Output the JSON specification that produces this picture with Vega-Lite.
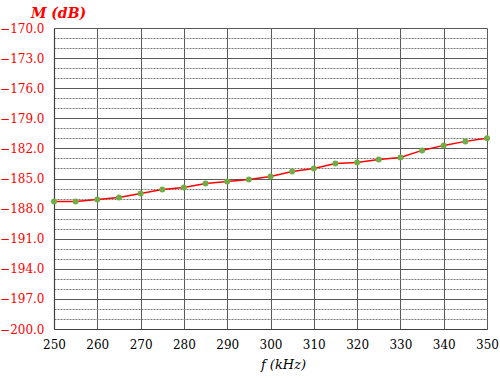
{
  "$schema": "https://vega.github.io/schema/vega-lite/v6.json",
  "width": 433,
  "height": 301,
  "autosize": {"type": "none"},
  "padding": {"left": 54, "top": 28, "right": 13, "bottom": 49},
  "background": "white",
  "config": {"view": {"stroke": null}, "font": "DejaVu Serif"},
  "data": {"values": [
    {"f": 250, "M": -187.3}, {"f": 255, "M": -187.3}, {"f": 260, "M": -187.1},
    {"f": 265, "M": -186.9}, {"f": 270, "M": -186.5}, {"f": 275, "M": -186.1},
    {"f": 280, "M": -185.9}, {"f": 285, "M": -185.5}, {"f": 290, "M": -185.3},
    {"f": 295, "M": -185.1}, {"f": 300, "M": -184.8}, {"f": 305, "M": -184.3},
    {"f": 310, "M": -184.0}, {"f": 315, "M": -183.5}, {"f": 320, "M": -183.4},
    {"f": 325, "M": -183.1}, {"f": 330, "M": -182.9}, {"f": 335, "M": -182.2},
    {"f": 340, "M": -181.7}, {"f": 345, "M": -181.3}, {"f": 350, "M": -181.0}
  ]},
  "encoding": {
    "x": {"field": "f", "type": "quantitative",
      "scale": {"domain": [250, 350], "nice": false, "zero": false},
      "axis": {"values": [250, 260, 270, 280, 290, 300, 310, 320, 330, 340, 350],
        "title": "f (kHz)", "titleFont": "DejaVu Serif", "titleFontStyle": "italic",
        "titleFontWeight": "normal", "titleFontSize": 13, "titleColor": "black",
        "titleX": 229, "titleY": 39, "titleAlign": "center", "titleBaseline": "alphabetic",
        "labelFont": "DejaVu Serif", "labelFontSize": 12, "labelColor": "black",
        "labelPadding": 10, "ticks": false, "labelFlush": false,
        "grid": true, "gridColor": "#5a5a5a", "gridWidth": 1,
        "domainColor": "#404040", "domainWidth": 1.2}},
    "y": {"field": "M", "type": "quantitative",
      "scale": {"domain": [-200, -170], "nice": false, "zero": false},
      "axis": {"values": [-200,-199,-198,-197,-196,-195,-194,-193,-192,-191,-190,-189,-188,-187,-186,-185,-184,-183,-182,-181,-180,-179,-178,-177,-176,-175,-174,-173,-172,-171,-170],
        "labelExpr": "(datum.value + 200) % 3 === 0 ? format(datum.value, '.1f') : ''",
        "title": "M (dB)", "titleFont": "DejaVu Serif", "titleFontStyle": "italic",
        "titleFontWeight": "bold", "titleFontSize": 14, "titleColor": "#ff0000",
        "titleAngle": 0, "titleX": 4, "titleY": -11, "titleAlign": "center", "titleBaseline": "alphabetic",
        "labelFont": "DejaVu Serif", "labelFontSize": 12, "labelColor": "#ff0000",
        "labelPadding": 10, "ticks": false, "labelFlush": false, "labelOverlap": false,
        "grid": true,
        "gridColor": {"condition": {"test": "(datum.value + 200) % 3 === 0", "value": "#5a5a5a"}, "value": "#777777"},
        "gridWidth": 1,
        "gridDash": {"condition": {"test": "(datum.value + 200) % 3 === 0", "value": []}, "value": [2, 1]},
        "domainColor": "#404040", "domainWidth": 1.2}}
  },
  "layer": [
    {"mark": {"type": "line", "color": "#ff0000", "strokeWidth": 1.5}},
    {"mark": {"type": "point", "shape": "circle", "filled": true, "color": "#70ad47", "size": 36, "opacity": 1}}
  ]
}
